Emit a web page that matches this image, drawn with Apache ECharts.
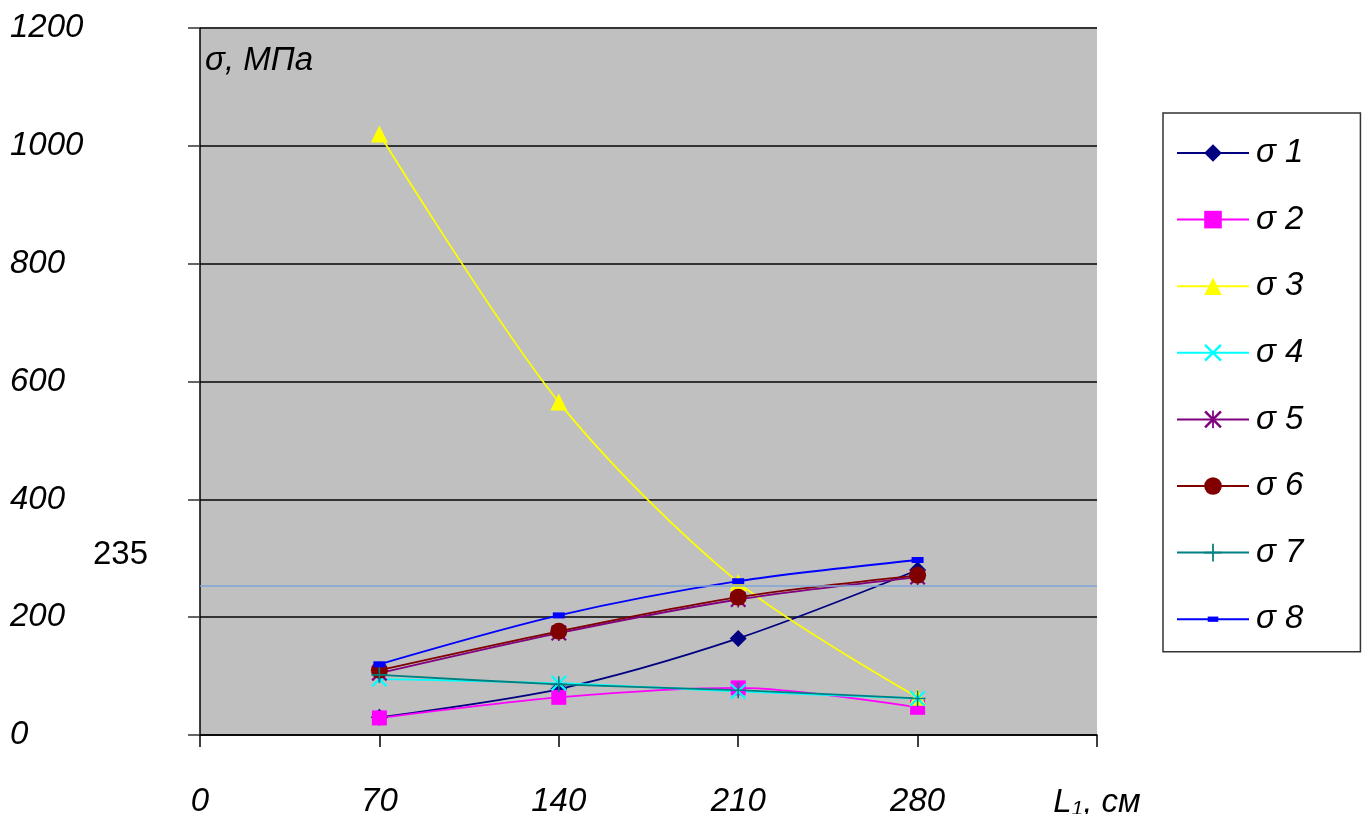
<!DOCTYPE html>
<html>
<head>
<meta charset="utf-8">
<script src="https://cdn.jsdelivr.net/npm/echarts@6/dist/echarts.min.js"></script>
<style>
  html, body { margin: 0; padding: 0; background: #fff; }
  #chart { width: 1362px; height: 814px; }
</style>
</head>
<body>
<div id="chart"></div>
<script>
// lengths L1, cm
var lengths = [70, 140, 210, 280]
var xTicks = [0, 70, 140, 210, 280, 350]
var yTicks = [0, 200, 400, 600, 800, 1000, 1200]

// stresses, MPa
var sigma1 = [30, 78, 164, 280]
var sigma2 = [29, 64, 80, 47]
var sigma3 = [1020, 565, 259, 64]
var sigma4 = [95, 88, 74, 62]
var sigma5 = [105, 173, 230, 268]
var sigma6 = [110, 176, 234, 271]
var sigma7 = [102, 86, 76, 62]
var sigma8 = [120, 203, 261, 297]

var limitValue = 254
var limitLabel = '235'

var font = '"Liberation Sans", Arial, sans-serif'

// marker shapes drawn as thin filled paths
var xMark = 'path://M0,1L1,0L10,9L9,10ZM9,0L10,1L1,10L0,9Z'
var starMark = 'path://M0,1L1,0L10,9L9,10ZM9,0L10,1L1,10L0,9ZM4.5,0L5.5,0L5.5,10L4.5,10Z'
var plusMark = 'path://M4.5,0L5.5,0L5.5,10L4.5,10ZM0,4.5L10,4.5L10,5.5L0,5.5Z'
// small dash inside a 20x20 box (moveTo points set the box)
var dashMark = 'path://M0,0M20,20M4,7L16,7L16,13L4,13Z'

function pairs (vals) {
  return lengths.map(function (l, i) { return [l, vals[i]] })
}

function line (name, vals, color, symbol, size) {
  return {
    name: name,
    type: 'line',
    data: pairs(vals),
    smooth: 0.3,
    symbol: symbol,
    symbolSize: size,
    lineStyle: { color: color, width: 1.8 },
    itemStyle: { color: color },
    z: 3
  }
}

var series = [
  line('σ 1', sigma1, '#000080', 'diamond', 17),
  line('σ 2', sigma2, '#ff00ff', 'rect', 15),
  line('σ 3', sigma3, '#ffff00', 'triangle', 17),
  line('σ 4', sigma4, '#00ffff', xMark, 16),
  line('σ 5', sigma5, '#800080', starMark, 16),
  line('σ 6', sigma6, '#800000', 'circle', 17),
  line('σ 7', sigma7, '#008080', plusMark, 16),
  line('σ 8', sigma8, '#0000ff', dashMark, 20)
]

// limit line
series.push({
  type: 'line',
  data: [],
  silent: true,
  markLine: {
    silent: true,
    symbol: 'none',
    lineStyle: { color: '#7ea6d8', width: 1.5, type: 'solid' },
    label: {
      position: 'start',
      formatter: limitLabel,
      fontFamily: font,
      fontSize: 33,
      color: '#000',
      offset: [-47, -30]
    },
    data: [{ yAxis: limitValue }]
  }
})

var chart = echarts.init(document.getElementById('chart'))
chart.setOption({
  animation: false,
  textStyle: { fontFamily: font },
  grid: {
    left: 200,
    right: 265,
    top: 28,
    bottom: 79,
    outerBoundsMode: 'none',
    containLabel: false,
    show: true,
    backgroundColor: '#c0c0c0',
    borderWidth: 0
  },
  legend: {
    orient: 'vertical',
    left: 1163,
    top: 113,
    padding: [23.5, 57, 16, 13],
    backgroundColor: '#fff',
    borderColor: '#333',
    borderWidth: 1.5,
    borderRadius: 0,
    itemWidth: 72,
    itemHeight: 22,
    itemGap: 33.6,
    textStyle: {
      fontFamily: font,
      fontStyle: 'italic',
      fontSize: 33,
      color: '#000',
      padding: [0, 0, 0, 2]
    },
    data: series.slice(0, 8).map(function (s) { return s.name })
  },
  graphic: [{
    type: 'text',
    left: 205,
    top: 44,
    style: {
      text: 'σ, МПа',
      font: 'italic 33px ' + font,
      fill: '#000'
    }
  }],
  xAxis: {
    type: 'value',
    min: xTicks[0],
    max: xTicks[xTicks.length - 1],
    interval: 70,
    axisLine: { lineStyle: { color: '#000', width: 1.5 } },
    axisTick: { length: 12, lineStyle: { color: '#000', width: 1.5 } },
    splitLine: { show: false },
    axisLabel: {
      margin: 50,
      fontSize: 33,
      fontStyle: 'italic',
      color: '#000',
      formatter: function (v) {
        if (v === 350) return '{l|L}{s|1}{l|, см}'
        return String(v)
      },
      rich: {
        l: { fontSize: 33, fontStyle: 'italic', fontFamily: font },
        s: { fontSize: 21, fontStyle: 'italic', fontFamily: font, verticalAlign: 'bottom', padding: [14, 0, 0, 0] }
      }
    }
  },
  yAxis: {
    type: 'value',
    min: yTicks[0],
    max: yTicks[yTicks.length - 1],
    interval: 200,
    axisLine: { show: true, lineStyle: { color: '#000', width: 1.5 } },
    axisTick: { show: true, length: 12, lineStyle: { color: '#333', width: 1.5 } },
    splitLine: { lineStyle: { color: '#333', width: 2 } },
    axisLabel: {
      margin: 190,
      align: 'left',
      fontSize: 33,
      fontStyle: 'italic',
      color: '#000',
      formatter: function (v) { return String(v) }
    }
  },
  series: series
})
</script>
</body>
</html>
